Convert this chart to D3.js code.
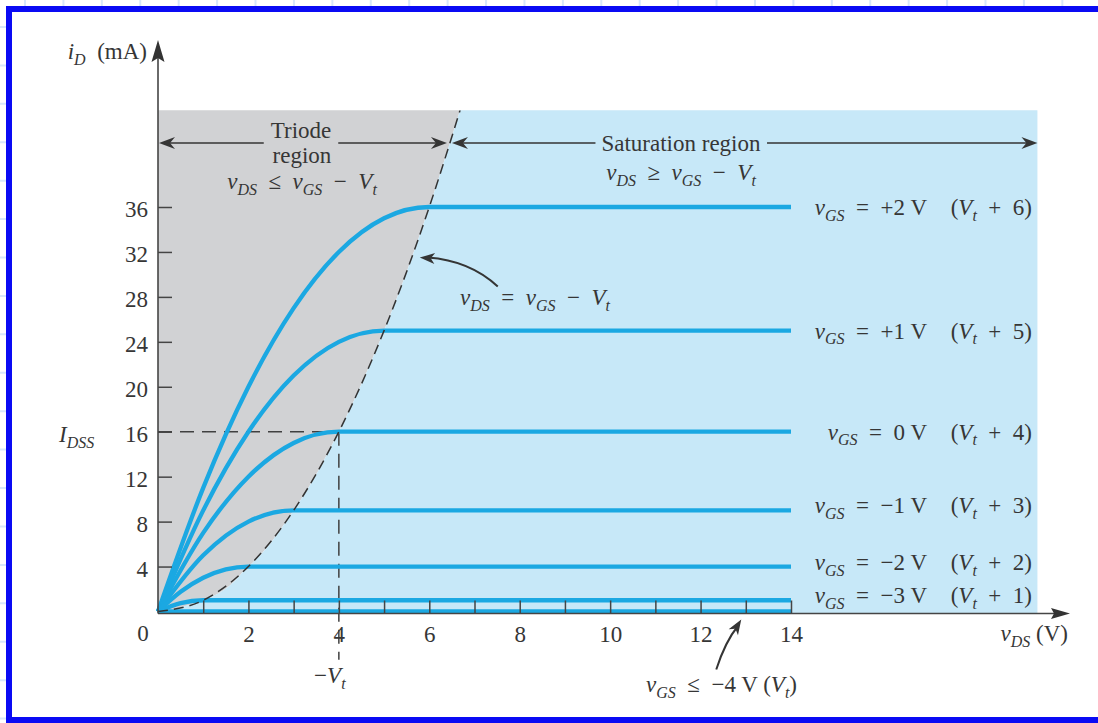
<!DOCTYPE html>
<html>
<head>
<meta charset="utf-8">
<script src="https://cdn.jsdelivr.net/npm/d3@7"></script>
<style>
  html, body { margin: 0; padding: 0; background: #fff; }
  svg { display: block; }
  text { font-family: "Liberation Serif", "Times New Roman", serif; fill: #363636; white-space: pre; }
</style>
</head>
<body>
<svg id="chart" width="1098" height="723"></svg>
<script>
// Drain characteristics of an n-channel depletion MOSFET (Vt = -4 V).
// Each curve: [vDS (V), iD (mA)] samples, triode rise then flat saturation to 14 V.
const curveP2 = [[0,0],[1,11],[2,20],[3,27],[4,32],[5,35],[6,36],[14,36]];
const curveP1 = [[0,0],[1,9],[2,16],[3,21],[4,24],[5,25],[14,25]];
const curve0  = [[0,0],[1,7],[2,12],[3,15],[4,16],[14,16]];
const curveM1 = [[0,0],[1,5],[2,8],[3,9],[14,9]];
const curveM2 = [[0,0],[0.5,1.75],[1,3],[1.5,3.75],[2,4],[14,4]];
const curveM3 = [[0,0],[0.5,0.75],[1,1],[14,1]];
const curveCutoff = [[0,0],[14,0]];

// Curve annotations
const gateLabels = ["+2 V", "+1 V", "0 V", "\u22121 V", "\u22122 V", "\u22123 V"];
const overdriveLabels = ["6", "5", "4", "3", "2", "1"];
const saturationLevels = [36, 25, 16, 9, 4, 1];

// Edge of saturation, vDS = vGS - Vt  (iD = K * vDS^2)
const edgeCurve = [[0,0],[1,1],[2,4],[3,9],[4,16],[5,25],[6,36],[6.68,44.6]];

// Axis ticks
const yTicks = [4, 8, 12, 16, 20, 24, 28, 32, 36];
const xTicks = [1,2,3,4,5,6,7,8,9,10,11,12,13,14];
const xTickLabels = [2, 4, 6, 8, 10, 12, 14];

// Extent of the shaded regions and the IDSS point
const regionTopmA = 44.6;
const regionRightV = 19.45;
const idss = 16;
const pinchV = 4;

const W = 1098, H = 723;
const FS = 23;
const ink = "#353535";
const curveBlue = "#1ba8e2";
const triodeGray = "#d1d2d4";
const satBlue = "#c7e8f8";

const svg = d3.select("#chart");

// Page background with faint grid, then the framed white card
const bg = svg.append("g");
bg.append("rect").attr("width", W).attr("height", H).attr("fill", "#ffffff");
const gridStep = 38.42;
bg.selectAll("line.gv").data(d3.range(25, W, gridStep)).join("line")
  .attr("x1", d => d).attr("x2", d => d).attr("y1", 0).attr("y2", H)
  .attr("stroke", "#d8e7fb").attr("stroke-width", 2);
bg.selectAll("line.gh").data(d3.range(27, H, gridStep)).join("line")
  .attr("y1", d => d).attr("y2", d => d).attr("x1", 0).attr("x2", W)
  .attr("stroke", "#d8e7fb").attr("stroke-width", 2);
svg.append("rect").attr("x", 9).attr("y", 9).attr("width", 1100).attr("height", 711)
  .attr("fill", "#ffffff").attr("stroke", "#0a0af4").attr("stroke-width", 6);

const x = d3.scaleLinear().domain([0, 14]).range([158, 791]);
const y = d3.scaleLinear().domain([0, 36]).range([611.5, 207]);
const axisY = y(0) + 2;

// ---- shaded regions ----
const fillEdge = [[0, y.invert(axisY)]].concat(edgeCurve.slice(1));
const triodeArea = d3.area()
  .y(d => y(d[1])).x0(x(0)).x1(d => x(d[0]))
  .curve(d3.curveMonotoneY);
const satArea = d3.area()
  .y(d => y(d[1])).x0(d => x(d[0])).x1(x(regionRightV))
  .curve(d3.curveMonotoneY);
svg.append("path").attr("d", triodeArea(fillEdge)).attr("fill", triodeGray);
svg.append("path").attr("d", satArea(fillEdge)).attr("fill", satBlue);

// ---- IDSS guide lines ----
svg.append("line")
  .attr("x1", x(0)).attr("x2", x(pinchV)).attr("y1", y(idss)).attr("y2", y(idss))
  .attr("stroke", "#404040").attr("stroke-width", 1.5).attr("stroke-dasharray", "14,8");
svg.append("line")
  .attr("x1", x(pinchV)).attr("x2", x(pinchV)).attr("y1", y(idss)).attr("y2", y(-4.3))
  .attr("stroke", "#404040").attr("stroke-width", 1.5).attr("stroke-dasharray", "14,8");

// ---- characteristic curves ----
const line = d3.line().x(d => x(d[0])).y(d => y(d[1])).curve(d3.curveMonotoneX);
const curves = [curveP2, curveP1, curve0, curveM1, curveM2, curveM3, curveCutoff];
svg.append("g").selectAll("path").data(curves).join("path")
  .attr("d", line)
  .attr("fill", "none").attr("stroke", curveBlue).attr("stroke-width", 4.3)
  .attr("stroke-linecap", "butt").attr("stroke-linejoin", "round");

// dashed boundary vDS = vGS - Vt
svg.append("path").attr("d", line(edgeCurve))
  .attr("fill", "none").attr("stroke", "#333").attr("stroke-width", 1.5)
  .attr("stroke-dasharray", "10,6");

// ---- axes ----
const yAxis = d3.axisLeft(y).tickValues(yTicks).tickSize(-14).tickPadding(10).tickFormat(d3.format("d"));
const gy = svg.append("g").attr("transform", `translate(${x(0)},0)`).call(yAxis);
gy.select(".domain").remove();
gy.selectAll(".tick line").attr("stroke", "#454545").attr("stroke-width", 1.5);
gy.selectAll(".tick text").style("font-size", FS + "px").attr("dy", "0.43em");

const xAxis = d3.axisBottom(x).tickValues(xTicks).tickSize(-13).tickPadding(12)
  .tickFormat(d => xTickLabels.includes(d) ? String(d) : "");
const gx = svg.append("g").attr("transform", `translate(0,${axisY})`).call(xAxis);
gx.select(".domain").remove();
gx.selectAll(".tick line").attr("stroke", "#454545").attr("stroke-width", 1.5);
gx.selectAll(".tick text").style("font-size", FS + "px");

svg.append("text").attr("x", x(0) - 15).attr("y", 641)
  .attr("text-anchor", "middle").style("font-size", FS + "px").text("0");

// axis lines with arrowheads
function arrowHead(g, px, py, angle, len, half, notch, color) {
  g.append("path")
    .attr("d", `M0,0 L${-len},${-half} L${-len + notch},0 L${-len},${half} Z`)
    .attr("transform", `translate(${px},${py}) rotate(${angle})`)
    .attr("fill", color || ink);
}
const axes = svg.append("g");
axes.append("line").attr("x1", x(0)).attr("x2", x(0)).attr("y1", axisY).attr("y2", 46)
  .attr("stroke", "#454545").attr("stroke-width", 1.6);
arrowHead(axes, x(0), 40, -90, 22, 6.5, 4, "#333");
axes.append("line").attr("x1", x(0)).attr("x2", 1064).attr("y1", axisY).attr("y2", axisY)
  .attr("stroke", "#454545").attr("stroke-width", 1.6);
arrowHead(axes, 1070, axisY, 0, 19, 5.5, 3, "#333");

// ---- math-style text helper ----
// parts: [text, kind] where kind "i" = italic, "s" = italic subscript, undefined = roman
function mathText(g, px, py, parts, anchor, size) {
  size = size || FS;
  const t = g.append("text").attr("x", px).attr("y", py)
    .attr("text-anchor", anchor || "start").style("font-size", size + "px");
  let lowered = false;
  parts.forEach(([s, kind]) => {
    const ts = t.append("tspan").text(s);
    if (kind === "i" || kind === "s") ts.style("font-style", "italic");
    if (kind === "s") {
      ts.style("font-size", Math.round(size * 0.68) + "px");
      if (!lowered) { ts.attr("dy", size * 0.24); lowered = true; }
    } else if (lowered) {
      ts.attr("dy", -size * 0.24); lowered = false;
    }
  });
  return t;
}

const labels = svg.append("g");
mathText(labels, 147, 59, [["i", "i"], ["D", "s"], ["  (mA)"]], "end");
mathText(labels, 1068, 641, [["v", "i"], ["DS", "s"], [" (V)"]], "end");
mathText(labels, 59, 442, [["I", "i"], ["DSS", "s"]], "start");
mathText(labels, x(pinchV) - 9, 683, [["\u2212"], ["V", "i"], ["t", "s"]], "middle");

// ---- region headers with double arrows ----
function regionArrow(cx, label, x0, x1, ay, ty, gapPad) {
  const g = svg.append("g");
  const t = g.append("text").attr("x", cx).attr("y", ty)
    .attr("text-anchor", "middle").style("font-size", FS + "px").text(label);
  const bb = t.node().getBBox();
  g.append("line").attr("x1", x0 + 4).attr("x2", bb.x - gapPad).attr("y1", ay).attr("y2", ay)
    .attr("stroke", ink).attr("stroke-width", 1.6);
  g.append("line").attr("x1", bb.x + bb.width + gapPad).attr("x2", x1 - 4).attr("y1", ay).attr("y2", ay)
    .attr("stroke", ink).attr("stroke-width", 1.6);
  arrowHead(g, x0, ay, 180, 16, 6, 5);
  arrowHead(g, x1, ay, 0, 16, 6, 5);
  return g;
}
const arrowRowY = 143;
const edgeAtRow = Math.sqrt(y.invert(arrowRowY));
regionArrow(301, "Triode", x(0) + 1, x(edgeAtRow) - 3, arrowRowY, 138, 7);
regionArrow(681, "Saturation region", x(edgeAtRow) + 2, x(regionRightV), arrowRowY, 151, 6);
svg.append("text").attr("x", 302).attr("y", 163).attr("text-anchor", "middle")
  .style("font-size", FS + "px").text("region");
mathText(svg, 302, 189, [["v", "i"], ["DS", "s"], ["  \u2264  "], ["v", "i"], ["GS", "s"], ["  \u2212  "], ["V", "i"], ["t", "s"]], "middle");
mathText(svg, 681, 180, [["v", "i"], ["DS", "s"], ["  \u2265  "], ["v", "i"], ["GS", "s"], ["  \u2212  "], ["V", "i"], ["t", "s"]], "middle");

// ---- curve labels ----
const labelNudge = [0, 0, 0, -5, -4.5, -5];
saturationLevels.forEach((lvl, k) => {
  const ly = y(lvl) + 8 + labelNudge[k];
  mathText(labels, 927, ly, [["v", "i"], ["GS", "s"], ["  =  " + gateLabels[k]]], "end");
  mathText(labels, 1032, ly, [["("], ["V", "i"], ["t", "s"], ["  +  " + overdriveLabels[k] + ")"]], "end");
});

// ---- pointer annotations ----
const ann = svg.append("g");
const edgePt = [x(Math.sqrt(31.5)) + 8, y(31.5)];
const tail1 = [edgePt[0] + 78, edgePt[1] + 29];
const ctrl1 = [edgePt[0] + 50, edgePt[1] + 3];
ann.append("path")
  .attr("d", `M${tail1[0]},${tail1[1]} Q${ctrl1[0]},${ctrl1[1]} ${edgePt[0] + 8},${edgePt[1]}`)
  .attr("fill", "none").attr("stroke", ink).attr("stroke-width", 2);
arrowHead(ann, edgePt[0], edgePt[1], 184, 15, 5.5, 4);
mathText(ann, 460, 305, [["v", "i"], ["DS", "s"], ["  =  "], ["v", "i"], ["GS", "s"], ["  \u2212  "], ["V", "i"], ["t", "s"]], "start");

const cutTip = [x(12.9), axisY + 6];
const tail2 = [cutTip[0] - 25, cutTip[1] + 50];
const ctrl2 = [cutTip[0] - 16, cutTip[1] + 22];
ann.append("path")
  .attr("d", `M${tail2[0]},${tail2[1]} Q${ctrl2[0]},${ctrl2[1]} ${cutTip[0] - 3},${cutTip[1] + 6}`)
  .attr("fill", "none").attr("stroke", ink).attr("stroke-width", 2);
arrowHead(ann, cutTip[0], cutTip[1], -58, 15, 5.5, 4);
mathText(ann, 646, 692, [["v", "i"], ["GS", "s"], ["  \u2264  \u22124 V ("], ["V", "i"], ["t", "s"], [")"]], "start");
</script>
</body>
</html>
